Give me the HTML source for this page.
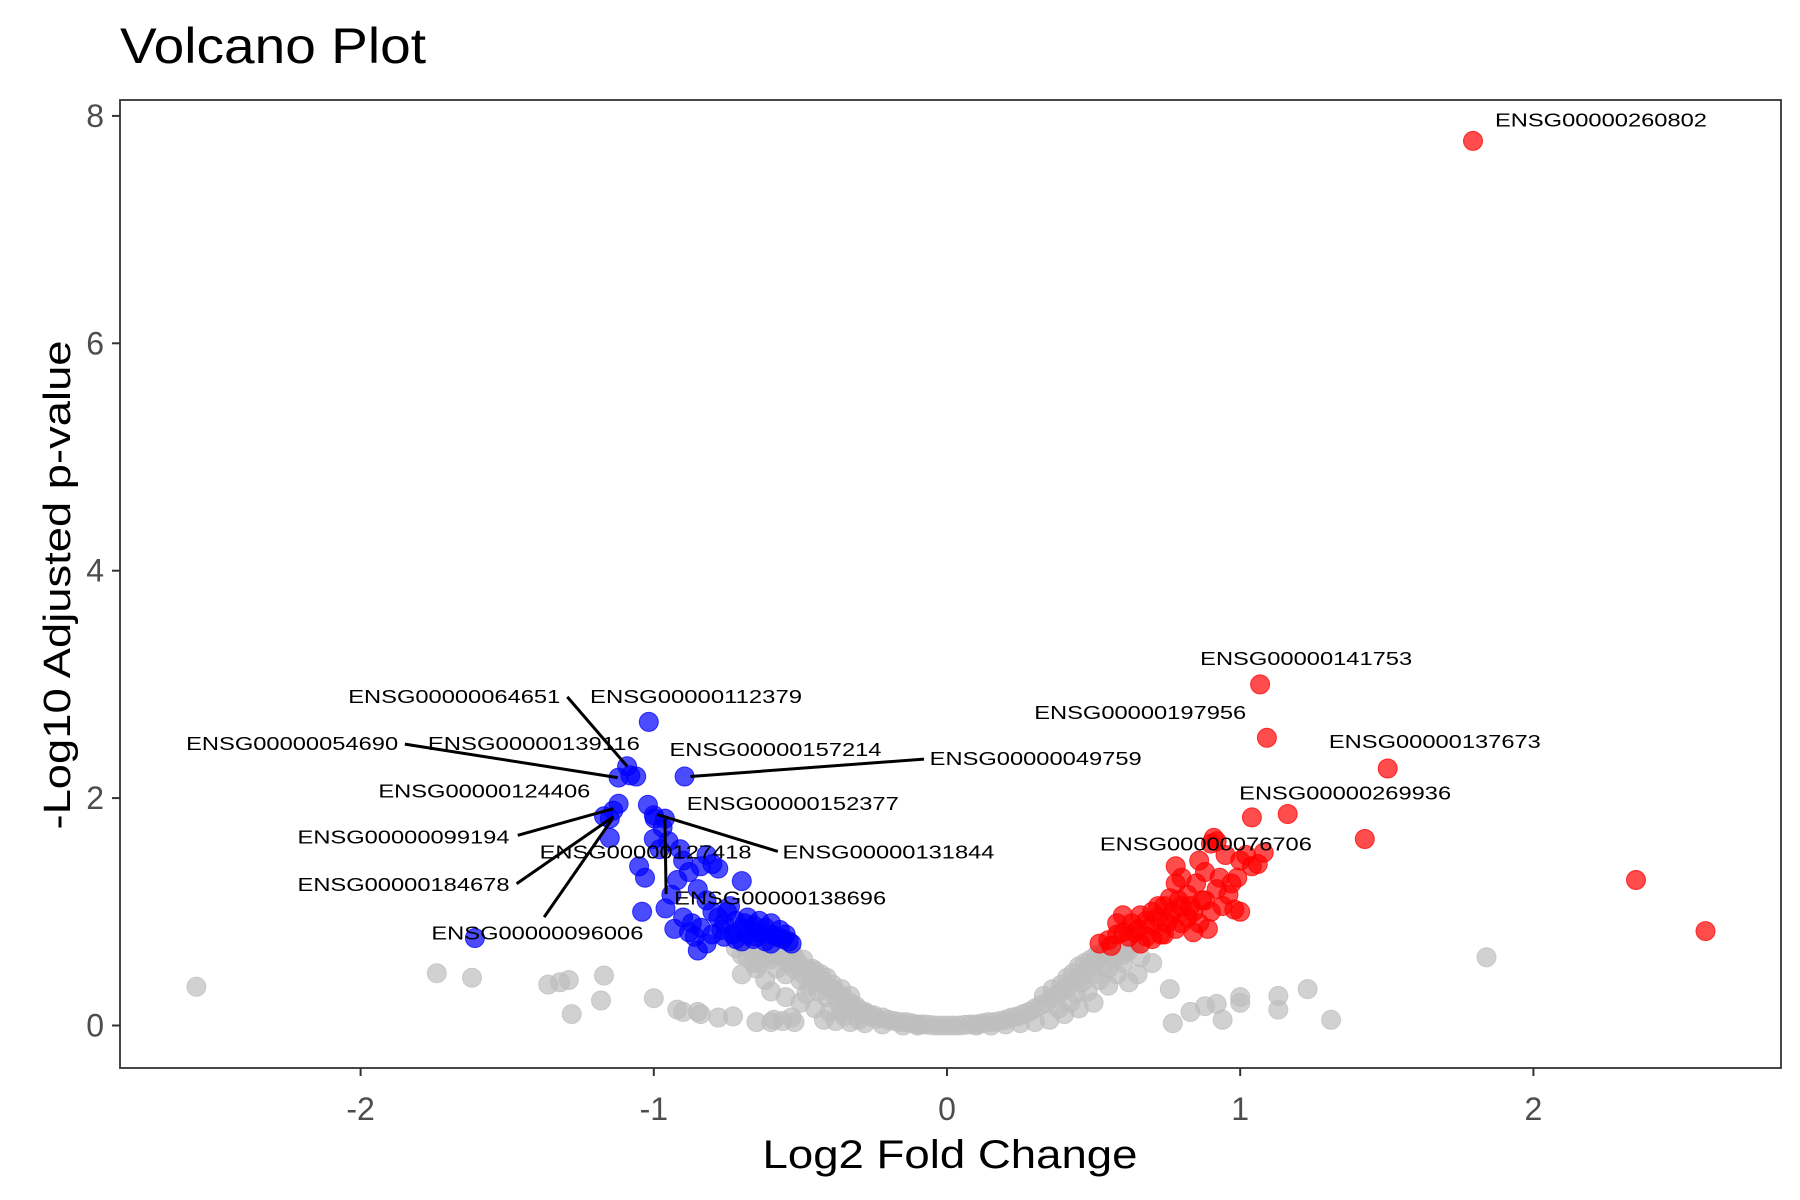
<!DOCTYPE html>
<html><head><meta charset="utf-8"><style>
html,body{margin:0;padding:0;background:#fff}
svg{display:block;font-family:"Liberation Sans",sans-serif}
</style></head><body>
<svg id="chart" width="1800" height="1200" viewBox="0 0 1800 1200">
<rect x="0" y="0" width="1800" height="1200" fill="#fff"/>
<text x="120" y="63" font-size="50" textLength="306" lengthAdjust="spacingAndGlyphs" fill="#000">Volcano Plot</text>
<g id="points"></g>
<g id="lines"></g>
<g id="labels"></g>
<rect x="120" y="100" width="1661" height="968" fill="none" stroke="#333" stroke-width="1.8"/>
<g id="axes"></g>
<text x="950" y="1168" font-size="40" text-anchor="middle" textLength="375" lengthAdjust="spacingAndGlyphs" fill="#000">Log2 Fold Change</text>
<text transform="translate(58,585) rotate(-90)" font-size="38" text-anchor="middle" dominant-baseline="central" textLength="489" lengthAdjust="spacingAndGlyphs" fill="#000">-Log10 Adjusted p-value</text>
</svg>
<script>
const xTicks = [-2, -1, 0, 1, 2];
const xTickLabels = ["-2", "-1", "0", "1", "2"];
const yTicks = [0, 2, 4, 6, 8];
const yTickLabels = ["0", "2", "4", "6", "8"];

const greyX = [-2.56,-1.74,-1.62,-1.36,-1.32,-1.29,-1.17,-1.28,-1.18,-1.0,-0.92,-0.9,-0.85,-0.84,-0.78,-0.73,-0.65,-0.6,-0.59,-0.56,-0.53,-0.52,
1.84,1.31,1.23,1.13,1.13,1.0,1.0,0.92,0.88,0.94,0.83,0.77,0.76,0.65,0.66,0.7,0.62,
-0.7,-0.68,-0.66,-0.64,-0.62,-0.6,-0.58,-0.56,-0.55,-0.54,-0.52,-0.5,-0.5,-0.48,-0.47,-0.46,-0.45,-0.44,-0.43,-0.42,-0.41,-0.4,-0.39,-0.38,-0.37,-0.36,-0.35,-0.34,-0.33,-0.32,-0.31,-0.3,-0.29,-0.28,-0.27,-0.26,-0.25,-0.24,-0.22,-0.2,-0.18,-0.16,-0.14,-0.12,-0.1,-0.08,-0.06,-0.04,-0.02,0,0.02,0.04,0.06,0.08,0.1,0.12,0.14,0.16,0.18,0.2,0.22,0.24,0.26,0.28,0.3,0.32,0.34,0.36,0.38,0.4,0.42,0.44,0.46,0.48,0.5,0.52,0.54,0.56,0.58,0.6,0.62,
-0.45,-0.4,-0.35,-0.3,-0.5,-0.42,-0.38,-0.33,-0.28,-0.22,-0.6,-0.55,0.5,0.45,0.4,0.35,0.3,0.25,0.55,0.48,0.42,0.58,0.52,0.2,0.15,-0.15,-0.1,0.1,0.6,-0.65,-0.7,-0.62,0.55,0.44,-0.48,0.38,-0.36,
-0.52,-0.49,-0.44,0.46,0.5,0.53,0.57,0.6,-0.66,-0.6,-0.58,-0.57,-0.53,
-0.72,-0.69,-0.63,-0.61,-0.59,-0.57,-0.54,-0.51,-0.49,-0.46,-0.43,-0.41,-0.39,-0.36,-0.33,0.33,0.36,0.39,0.41,0.43,0.45,0.47,0.49,0.51,0.54,0.56,0.59,0.61,0.63,0.64];
const greyY = [0.34,0.46,0.42,0.36,0.38,0.4,0.44,0.1,0.22,0.24,0.14,0.12,0.12,0.1,0.07,0.08,0.03,0.03,0.05,0.04,0.07,0.03,
0.6,0.05,0.32,0.26,0.14,0.2,0.25,0.19,0.17,0.05,0.12,0.02,0.32,0.45,0.6,0.55,0.38,
0.62,0.6,0.66,0.55,0.6,0.65,0.5,0.62,0.45,0.55,0.6,0.52,0.4,0.5,0.35,0.42,0.48,0.3,0.4,0.36,0.25,0.33,0.28,0.3,0.2,0.26,0.22,0.18,0.2,0.15,0.17,0.14,0.1,0.12,0.1,0.08,0.09,0.06,0.07,0.05,0.04,0.03,0.03,0.02,0.01,0.01,0.005,0,0,0,0,0,0.005,0.01,0.01,0.02,0.03,0.03,0.04,0.05,0.07,0.08,0.1,0.12,0.15,0.18,0.2,0.24,0.28,0.32,0.36,0.4,0.45,0.5,0.55,0.6,0.64,0.66,0.68,0.68,0.66,
0.15,0.12,0.08,0.05,0.2,0.05,0.04,0.03,0.02,0.01,0.3,0.25,0.2,0.15,0.1,0.05,0.03,0.02,0.35,0.3,0.2,0.45,0.4,0.01,0,0,0,0,0.55,0.5,0.45,0.4,0.5,0.28,0.28,0.15,0.12,
0.5,0.45,0.38,0.38,0.45,0.52,0.6,0.62,0.55,0.58,0.62,0.68,0.66,
0.68,0.7,0.7,0.68,0.7,0.64,0.66,0.56,0.58,0.5,0.45,0.42,0.36,0.32,0.26,0.26,0.32,0.36,0.42,0.46,0.52,0.55,0.58,0.62,0.66,0.7,0.7,0.72,0.7,0.72];

const blueX = [-1.61,-1.017,-1.091,-1.12,-1.08,-1.06,-0.895,-1.12,-1.138,-1.15,-1.17,-1.02,-0.997,-0.962,-1.0,-1.15,
-0.97,-1.0,-0.98,-1.05,-1.03,-0.95,-0.91,-0.9,-0.88,-0.84,-0.82,-0.8,-0.78,-0.7,-0.92,-0.94,-0.96,-1.04,-0.93,-0.9,-0.87,-0.85,-0.82,-0.8,-0.78,-0.76,-0.74,-0.72,-0.7,-0.68,-0.66,-0.64,-0.62,-0.6,-0.58,-0.56,-0.54,-0.53,-0.86,-0.84,-0.8,-0.76,-0.72,-0.7,-0.68,-0.66,-0.62,-0.6,-0.82,-0.85,-0.77,-0.73,-0.69,-0.65,-0.57,-0.55,-0.88,-0.6,-0.64,-0.75];
const blueY = [0.77,2.67,2.28,2.18,2.2,2.19,2.19,1.95,1.89,1.82,1.84,1.94,1.82,1.82,1.85,1.65,
1.74,1.64,1.55,1.4,1.3,1.62,1.55,1.45,1.35,1.4,1.5,1.42,1.38,1.27,1.28,1.15,1.03,1.0,0.85,0.95,0.9,1.2,1.1,1.0,0.95,0.9,1.05,0.92,0.85,0.95,0.88,0.82,0.86,0.8,0.78,0.76,0.74,0.72,0.78,0.86,0.8,0.78,0.76,0.74,0.8,0.76,0.74,0.72,0.72,0.66,0.84,0.8,0.9,0.78,0.84,0.8,0.82,0.9,0.92,1.0];

const redX = [1.794,1.068,1.091,1.503,1.04,1.162,0.91,1.425,2.35,2.587,
0.52,0.55,0.58,0.6,0.6,0.63,0.65,0.66,0.68,0.7,0.7,0.72,0.73,0.74,0.75,0.76,0.77,0.78,0.78,0.78,0.8,0.8,0.82,0.82,0.84,0.85,0.86,0.86,0.87,0.88,0.89,0.9,0.9,0.92,0.92,0.94,0.95,0.96,0.97,0.98,1.0,1.0,1.02,1.04,1.06,1.08,0.62,0.56,0.68,0.64,0.7,0.74,0.58,0.66,0.8,0.84,0.72,0.76,0.79,0.83,0.88,0.93,0.99];
const redY = [7.78,3.0,2.53,2.26,1.83,1.86,1.65,1.64,1.28,0.83,
0.72,0.75,0.8,0.82,0.97,0.9,0.85,0.97,0.92,0.88,1.0,0.95,0.8,1.05,0.9,1.12,1.0,0.85,1.25,1.4,1.05,1.3,0.95,1.15,1.0,1.25,1.45,0.9,1.1,1.35,0.85,1.0,1.6,1.2,1.62,1.05,1.5,1.15,1.25,1.02,1.0,1.45,1.5,1.4,1.42,1.52,0.78,0.7,0.78,0.82,0.76,0.8,0.9,0.72,0.9,0.82,1.05,0.95,1.1,1.05,1.1,1.3,1.3];

const labelNames = ["ENSG00000260802","ENSG00000141753","ENSG00000197956","ENSG00000137673","ENSG00000269936","ENSG00000076706","ENSG00000112379","ENSG00000064651","ENSG00000139116","ENSG00000054690","ENSG00000157214","ENSG00000049759","ENSG00000124406","ENSG00000152377","ENSG00000099194","ENSG00000127418","ENSG00000131844","ENSG00000184678","ENSG00000138696","ENSG00000096006"];
const labelX = [1.869,1.225,0.659,1.664,1.358,0.883,-0.856,-1.319,-1.409,-1.872,-0.585,-0.059,-1.578,-0.526,-1.492,-1.028,-0.561,-1.492,-0.569,-1.397];
const labelY = [7.96,3.225,2.75,2.495,2.04,1.59,2.89,2.89,2.475,2.475,2.424,2.343,2.059,1.947,1.653,1.521,1.521,1.237,1.116,0.811];
const labelAnchor = ["start","middle","middle","middle","middle","middle","middle","end","middle","end","middle","start","middle","middle","end","middle","start","end","middle","middle"];

const lineFromX = [-1.295,-1.849,-0.0785,-1.464,-1.468,-1.374,-0.577,-0.958];
const lineFromY = [2.89,2.475,2.343,1.673,1.247,0.953,1.531,1.156];
const lineToX = [-1.091,-1.123,-0.875,-1.138,-1.138,-1.142,-0.989,-0.962];
const lineToY = [2.28,2.18,2.19,1.907,1.836,1.815,1.856,1.815];

const NS = "http://www.w3.org/2000/svg";
function sx(v){ return 947 + v * 293.2; }
function sy(v){ return 1025.5 - v * 113.7; }

const pts = document.getElementById("points");
function drawSeries(xs, ys, color, name){
  for (let i = 0; i < xs.length; i++) {
    const c = document.createElementNS(NS, "circle");
    c.setAttribute("cx", sx(xs[i]).toFixed(1));
    c.setAttribute("cy", sy(ys[i]).toFixed(1));
    c.setAttribute("r", "9.5");
    c.setAttribute("fill", color);
    c.setAttribute("fill-opacity", "0.7");
    c.setAttribute("stroke", color);
    c.setAttribute("stroke-opacity", "0.75");
    c.setAttribute("stroke-width", "1");
    
    
    pts.appendChild(c);
  }
}
drawSeries(greyX, greyY, "#bebebe", "point-not-significant");
drawSeries(blueX, blueY, "#0000ff", "point-downregulated");
drawSeries(redX, redY, "#ff0000", "point-upregulated");

const lg = document.getElementById("lines");
for (let i = 0; i < lineFromX.length; i++) {
  const l = document.createElementNS(NS, "line");
  l.setAttribute("x1", sx(lineFromX[i])); l.setAttribute("y1", sy(lineFromY[i]));
  l.setAttribute("x2", sx(lineToX[i])); l.setAttribute("y2", sy(lineToY[i]));
  l.setAttribute("stroke", "#000"); l.setAttribute("stroke-width", "3");
  
  
  lg.appendChild(l);
}

const lb = document.getElementById("labels");
for (let i = 0; i < labelNames.length; i++) {
  const t = document.createElementNS(NS, "text");
  t.setAttribute("x", sx(labelX[i])); t.setAttribute("y", sy(labelY[i]) + 6);
  t.setAttribute("text-anchor", labelAnchor[i]);
  t.setAttribute("font-size", "18");
  t.setAttribute("textLength", "212");
  t.setAttribute("lengthAdjust", "spacingAndGlyphs");
  t.setAttribute("fill", "#000");
  t.textContent = labelNames[i];
  
  
  lb.appendChild(t);
}

const ax = document.getElementById("axes");
for (let i = 0; i < xTicks.length; i++) {
  const x = sx(xTicks[i]);
  const l = document.createElementNS(NS, "line");
  l.setAttribute("x1", x); l.setAttribute("x2", x); l.setAttribute("y1", 1068); l.setAttribute("y2", 1076);
  l.setAttribute("stroke", "#333"); l.setAttribute("stroke-width", "2");
  
  
  ax.appendChild(l);
  const t = document.createElementNS(NS, "text");
  t.setAttribute("x", x); t.setAttribute("y", 1120);
  t.setAttribute("text-anchor", "middle"); t.setAttribute("font-size", "32"); t.setAttribute("fill", "#4d4d4d");
  t.textContent = xTickLabels[i];
  
  
  ax.appendChild(t);
}
for (let i = 0; i < yTicks.length; i++) {
  const y = sy(yTicks[i]);
  const l = document.createElementNS(NS, "line");
  l.setAttribute("x1", 112); l.setAttribute("x2", 120); l.setAttribute("y1", y); l.setAttribute("y2", y);
  l.setAttribute("stroke", "#333"); l.setAttribute("stroke-width", "2");
  
  
  ax.appendChild(l);
  const t = document.createElementNS(NS, "text");
  t.setAttribute("x", 104); t.setAttribute("y", y + 11);
  t.setAttribute("text-anchor", "end"); t.setAttribute("font-size", "32"); t.setAttribute("fill", "#4d4d4d");
  t.textContent = yTickLabels[i];
  
  
  ax.appendChild(t);
}
</script>
</body></html>
